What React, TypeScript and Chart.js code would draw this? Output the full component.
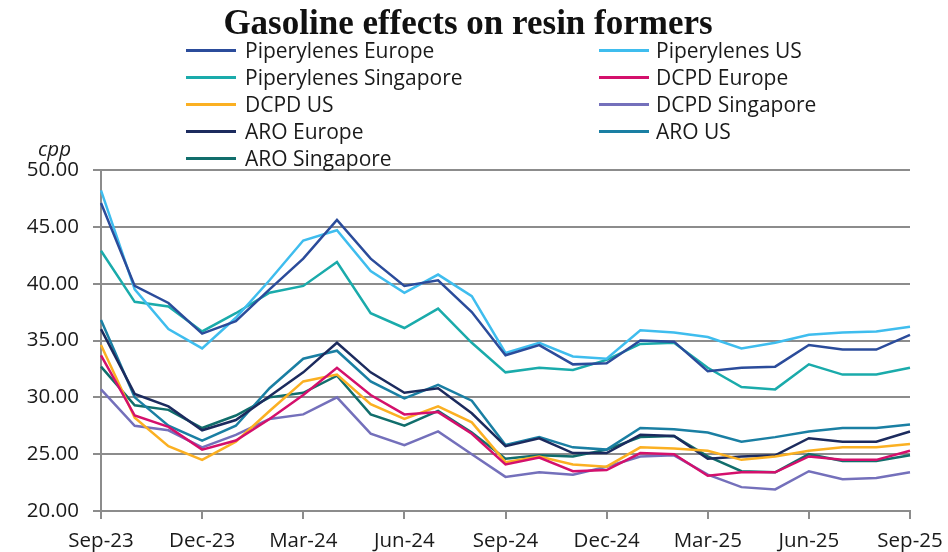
import React, { useEffect, useRef } from "react";
import { Chart, registerables } from "chart.js";

Chart.register(...registerables);

const months = [
  "Sep-23", "Oct-23", "Nov-23", "Dec-23", "Jan-24", "Feb-24", "Mar-24", "Apr-24", "May-24",
  "Jun-24", "Jul-24", "Aug-24", "Sep-24", "Oct-24", "Nov-24", "Dec-24", "Jan-25", "Feb-25",
  "Mar-25", "Apr-25", "May-25", "Jun-25", "Jul-25", "Aug-25", "Sep-25",
];

const piperylenesEurope = [47.1, 39.8, 38.3, 35.6, 36.7, 39.5, 42.2, 45.6, 42.2, 39.8, 40.3, 37.5, 33.7, 34.6, 32.9, 33.0, 35.0, 34.9, 32.3, 32.6, 32.7, 34.6, 34.2, 34.2, 35.5];
const piperylenesUS = [48.2, 39.5, 36.0, 34.3, 37.0, 40.3, 43.8, 44.7, 41.1, 39.2, 40.8, 38.9, 33.9, 34.8, 33.6, 33.4, 35.9, 35.7, 35.3, 34.3, 34.8, 35.5, 35.7, 35.8, 36.2];
const piperylenesSingapore = [42.9, 38.4, 38.0, 35.8, 37.4, 39.2, 39.8, 41.9, 37.4, 36.1, 37.8, 34.8, 32.2, 32.6, 32.4, 33.3, 34.7, 34.8, 32.6, 30.9, 30.7, 32.9, 32.0, 32.0, 32.6];
const dcpdEurope = [33.7, 28.4, 27.4, 25.4, 26.2, 28.1, 30.2, 32.6, 30.2, 28.5, 28.7, 26.8, 24.1, 24.7, 23.5, 23.6, 25.1, 25.0, 23.1, 23.4, 23.4, 24.8, 24.5, 24.5, 25.3];
const dcpdUS = [34.6, 28.2, 25.7, 24.5, 26.1, 28.8, 31.4, 32.0, 29.4, 28.1, 29.2, 27.8, 24.3, 24.8, 24.1, 23.9, 25.6, 25.5, 25.3, 24.5, 24.8, 25.3, 25.6, 25.6, 25.9];
const dcpdSingapore = [30.7, 27.5, 27.1, 25.6, 26.7, 28.1, 28.5, 30.0, 26.8, 25.8, 27.0, 25.0, 23.0, 23.4, 23.2, 23.9, 24.8, 24.9, 23.2, 22.1, 21.9, 23.5, 22.8, 22.9, 23.4];
const aroEurope = [36.0, 30.3, 29.2, 27.1, 28.0, 30.1, 32.2, 34.8, 32.2, 30.4, 30.8, 28.6, 25.7, 26.4, 25.1, 25.1, 26.7, 26.6, 24.6, 24.8, 24.9, 26.4, 26.1, 26.1, 27.0];
const aroUS = [36.8, 30.0, 27.5, 26.2, 27.5, 30.8, 33.4, 34.1, 31.4, 29.9, 31.1, 29.7, 25.8, 26.5, 25.6, 25.4, 27.3, 27.2, 26.9, 26.1, 26.5, 27.0, 27.3, 27.3, 27.6];
const aroSingapore = [32.7, 29.3, 28.9, 27.3, 28.4, 30.0, 30.4, 31.9, 28.5, 27.5, 28.8, 26.9, 24.6, 24.9, 24.8, 25.4, 26.5, 26.6, 24.8, 23.5, 23.4, 25.0, 24.4, 24.4, 24.9];

const seriesNames = [
  "Piperylenes Europe", "Piperylenes US", "Piperylenes Singapore",
  "DCPD Europe", "DCPD US", "DCPD Singapore",
  "ARO Europe", "ARO US", "ARO Singapore",
];
const seriesValues = [
  piperylenesEurope, piperylenesUS, piperylenesSingapore,
  dcpdEurope, dcpdUS, dcpdSingapore,
  aroEurope, aroUS, aroSingapore,
];
const seriesColors = [
  "#2b4c9b", "#3fbdee", "#1aabab",
  "#d4106c", "#fbb022", "#7470bb",
  "#1c2b5e", "#1a7fa3", "#116e6c",
];

const titleText = "Gasoline effects on resin formers";
const unitText = "cpp";
const GRID = "#8c8c8c";
const FONT = "'Open Sans', sans-serif";

export default function App() {
  const canvasRef = useRef<HTMLCanvasElement | null>(null);

  useEffect(() => {
    const canvas = canvasRef.current;
    if (!canvas) return;
    const chart = new Chart(canvas, {
      type: "line",
      data: {
        labels: months,
        datasets: seriesNames.map((name, i) => ({
          label: name,
          data: seriesValues[i],
          borderColor: seriesColors[i],
          backgroundColor: seriesColors[i],
          borderWidth: 2.5,
          pointRadius: 0,
          tension: 0,
          fill: false,
        })),
      },
      options: {
        animation: false,
        responsive: false,
        devicePixelRatio: 1,
        events: [],
        layout: { padding: { top: 170, right: 38, left: 0, bottom: 0 } },
        plugins: {
          legend: { display: false },
          title: { display: false },
          tooltip: { enabled: false },
        },
        scales: {
          x: {
            type: "category",
            offset: false,
            afterFit: (scale: any) => {
              scale.height = 41;
              scale.paddingLeft = 0;
              scale.paddingRight = 0;
            },
            grid: {
              drawOnChartArea: false,
              drawTicks: true,
              tickLength: 8,
              lineWidth: 2,
              color: (ctx: any) => (ctx.index % 3 === 0 ? GRID : "rgba(0,0,0,0)"),
            },
            border: { display: true, color: GRID, width: 2 },
            ticks: {
              autoSkip: false,
              maxRotation: 0,
              padding: 10,
              color: "#1a1a1a",
              font: { family: FONT, size: 20.5 },
              callback: (_v: any, i: number) => (i % 3 === 0 ? months[i] : ""),
            },
          },
          y: {
            min: 20,
            max: 50,
            afterFit: (scale: any) => {
              scale.width = 101;
              scale.paddingTop = 0;
              scale.paddingBottom = 0;
            },
            grid: { color: GRID, lineWidth: 2, tickLength: 8, drawTicks: true },
            border: { display: true, color: GRID, width: 2 },
            ticks: {
              stepSize: 5,
              padding: 14,
              color: "#1a1a1a",
              font: { family: FONT, size: 20.5 },
              callback: (v: any) => Number(v).toFixed(2),
            },
          },
        },
      },
    });
    return () => chart.destroy();
  }, []);

  const legendRows = [];
  for (let r = 0; r < Math.ceil(seriesNames.length / 2); r++) {
    for (let c = 0; c < 2; c++) {
      const i = r * 2 + c;
      if (i >= seriesNames.length) continue;
      const lineX = c === 0 ? 186 : 599;
      const textX = c === 0 ? 245 : 656;
      const y = 50 + r * 27;
      legendRows.push(
        <div key={"l" + i} style={{ position: "absolute", left: lineX, top: y - 1.5, width: 50, height: 3, background: seriesColors[i] }} />,
        <div key={"t" + i} style={{ position: "absolute", left: textX, top: y - 14, height: 28, lineHeight: "28px", fontFamily: FONT, fontSize: 21, color: "#1a1a1a", whiteSpace: "nowrap" }}>{seriesNames[i]}</div>
      );
    }
  }

  return (
    <div style={{ position: "fixed", left: 0, top: 0, width: 948, height: 552, background: "#ffffff", overflow: "hidden" }}>
      <canvas ref={canvasRef} width={948} height={552} style={{ position: "absolute", left: 0, top: 0, width: 948, height: 552 }} />
      <div style={{ position: "absolute", left: 0, top: 3, width: 936, textAlign: "center", fontFamily: "'Liberation Serif', serif", fontWeight: "bold", fontSize: 35, lineHeight: "40px", color: "#111111" }}>{titleText}</div>
      {legendRows}
      <div style={{ position: "absolute", left: 38, top: 134, fontFamily: FONT, fontStyle: "italic", fontSize: 20.5, lineHeight: "28px", color: "#1a1a1a" }}>{unitText}</div>
    </div>
  );
}
